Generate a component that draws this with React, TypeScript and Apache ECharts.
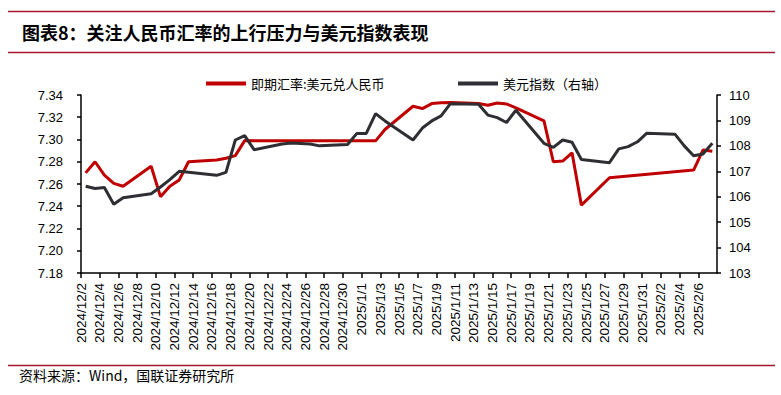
import React, { useEffect, useRef } from "react";
import * as echarts from "echarts";

const dates: string[] = [
  "2024/12/2", "2024/12/3", "2024/12/4", "2024/12/5", "2024/12/6", "2024/12/7", "2024/12/8",
  "2024/12/9", "2024/12/10", "2024/12/11", "2024/12/12", "2024/12/13", "2024/12/14", "2024/12/15",
  "2024/12/16", "2024/12/17", "2024/12/18", "2024/12/19", "2024/12/20", "2024/12/21", "2024/12/22",
  "2024/12/23", "2024/12/24", "2024/12/25", "2024/12/26", "2024/12/27", "2024/12/28", "2024/12/29",
  "2024/12/30", "2024/12/31", "2025/1/1", "2025/1/2", "2025/1/3", "2025/1/4", "2025/1/5",
  "2025/1/6", "2025/1/7", "2025/1/8", "2025/1/9", "2025/1/10", "2025/1/11", "2025/1/12",
  "2025/1/13", "2025/1/14", "2025/1/15", "2025/1/16", "2025/1/17", "2025/1/18", "2025/1/19",
  "2025/1/20", "2025/1/21", "2025/1/22", "2025/1/23", "2025/1/24", "2025/1/25", "2025/1/26",
  "2025/1/27", "2025/1/28", "2025/1/29", "2025/1/30", "2025/1/31", "2025/2/1", "2025/2/2",
  "2025/2/3", "2025/2/4", "2025/2/5", "2025/2/6", "2025/2/7",
];

// 即期汇率:美元兑人民币 (left axis), null = no quote that day
const usdCny: (number | null)[] = [
  7.270, 7.280, 7.268, 7.2606, 7.258, null, null,
  7.276, 7.2486, 7.258, 7.2636, 7.280, null, null,
  7.2815, 7.2832, 7.2855, 7.2990, 7.2988, null, null,
  7.2988, 7.2988, 7.2988, 7.2988, 7.2988, null, null,
  7.2988, 7.2988, null, 7.2988, 7.309, null, null,
  7.3299, 7.3278, 7.3323, 7.3330, 7.3332, null, null,
  7.3323, 7.3308, 7.3328, 7.3320, 7.3285, null, null,
  7.3167, 7.2800, 7.2806, 7.2880, 7.2410, null, null,
  7.2656, null, null, null, null, null, null,
  null, null, 7.2725, 7.2905, 7.2895,
];

// 美元指数（右轴）
const dxy: (number | null)[] = [
  106.41, 106.32, 106.36, 105.70, 105.96, null, null,
  106.12, 106.38, 106.67, 107.00, 106.96, null, null,
  106.84, 106.96, 108.23, 108.40, 107.85, null, null,
  108.07, 108.11, null, 108.07, 108.00, null, null,
  108.05, 108.49, 108.49, 109.27, 108.98, null, null,
  108.23, 108.70, 108.98, 109.18, 109.66, null, null,
  109.64, 109.21, 109.11, 108.92, 109.40, null, null,
  108.10, 107.94, 108.23, 108.14, 107.46, null, null,
  107.34, 107.88, 107.97, 108.16, 108.50, null, null,
  108.46, 108.00, 107.61, 107.68, 108.10,
];

const seriesNames = ["即期汇率:美元兑人民币", "美元指数（右轴）"];
const leftTicks = { min: 7.18, max: 7.34, interval: 0.02 };
const rightTicks = { min: 103, max: 110, interval: 1 };
const title = "图表8：关注人民币汇率的上行压力与美元指数表现";
const source = "资料来源：Wind，国联证券研究所";

export default function App() {
  const ref = useRef<HTMLDivElement>(null);
  useEffect(() => {
    if (!ref.current) return;
    const chart = echarts.init(ref.current, null, { renderer: "svg" });
    const axisColor = "#000";
    const labelFont = "'Liberation Sans', Arial, sans-serif";
    const cjk = "'Noto Sans CJK SC', sans-serif";
    // each day occupies one unit band; its value is drawn at the band centre
    const toPairs = (arr: (number | null)[]) =>
      arr.map((v, i) => [i + 0.5, v === null ? null : v]);
    chart.setOption({
      animation: false,
      backgroundColor: "#fff",
      grid: { left: 81, right: 64, top: 95, bottom: 122, containLabel: false },
      legend: [
        {
          data: [seriesNames[0]],
          left: 201,
          top: 72,
          icon: "rect",
          itemWidth: 40,
          itemHeight: 4,
          textStyle: { fontFamily: cjk, fontSize: 13, color: "#000" },
        },
        {
          data: [seriesNames[1]],
          left: 453,
          top: 72,
          icon: "rect",
          itemWidth: 40,
          itemHeight: 4,
          textStyle: { fontFamily: cjk, fontSize: 13, color: "#000" },
        },
      ],
      xAxis: {
        type: "value",
        min: 0,
        max: dates.length,
        interval: 2,
        axisLine: { show: true, lineStyle: { color: axisColor, width: 1.5 } },
        axisTick: { show: true, length: 5, lineStyle: { color: axisColor, width: 1.5 } },
        splitLine: { show: false },
        axisLabel: {
          rotate: 90,
          margin: 10,
          fontSize: 13.5,
          color: "#000",
          fontFamily: labelFont,
          showMaxLabel: false,
          formatter: (v: number) => (dates[Math.round(v)] ?? ""),
        },
      },
      yAxis: [
        {
          type: "value",
          position: "left",
          ...leftTicks,
          axisLine: { show: true, lineStyle: { color: axisColor, width: 1.5 } },
          axisTick: { show: true, length: 4, lineStyle: { color: axisColor, width: 1.5 } },
          splitLine: { show: false },
          axisLabel: {
            margin: 18,
            fontSize: 13,
            color: "#000",
            fontFamily: labelFont,
            formatter: (v: number) => v.toFixed(2),
          },
        },
        {
          type: "value",
          position: "right",
          ...rightTicks,
          axisLine: { show: true, lineStyle: { color: axisColor, width: 1.5 } },
          axisTick: { show: true, length: 4, lineStyle: { color: axisColor, width: 1.5 } },
          splitLine: { show: false },
          axisLabel: {
            margin: 12,
            fontSize: 13,
            color: "#000",
            fontFamily: labelFont,
          },
        },
      ],
      series: [
        {
          name: seriesNames[0],
          type: "line",
          yAxisIndex: 0,
          data: toPairs(usdCny),
          connectNulls: true,
          showSymbol: false,
          symbol: "none",
          color: "#C00000",
          lineStyle: { color: "#C00000", width: 3 },
        },
        {
          name: seriesNames[1],
          type: "line",
          yAxisIndex: 1,
          data: toPairs(dxy),
          connectNulls: true,
          showSymbol: false,
          symbol: "none",
          color: "#2F2F33",
          lineStyle: { color: "#2F2F33", width: 3 },
        },
      ],
      graphic: [
        {
          type: "line",
          shape: { x1: 8, y1: 11.5, x2: 775, y2: 11.5 },
          style: { stroke: "#A8172F", lineWidth: 1.5 },
        },
        {
          type: "text",
          left: 22,
          top: 23,
          style: {
            text: title,
            font: `bold 18px ${cjk}`,
            fill: "#000",
          },
        },
        {
          type: "line",
          shape: { x1: 8, y1: 52.5, x2: 775, y2: 52.5 },
          style: { stroke: "#A8172F", lineWidth: 1.5 },
        },
        {
          type: "line",
          shape: { x1: 8, y1: 365.5, x2: 775, y2: 365.5 },
          style: { stroke: "#A8172F", lineWidth: 1.5 },
        },
        {
          type: "text",
          left: 19,
          top: 368,
          style: {
            text: source,
            font: `14px ${cjk}`,
            fill: "#000",
          },
        },
      ],
    });
    return () => chart.dispose();
  }, []);
  return (
    <div
      ref={ref}
      style={{ position: "fixed", left: 0, top: 0, width: 781, height: 395, background: "#fff" }}
    />
  );
}
